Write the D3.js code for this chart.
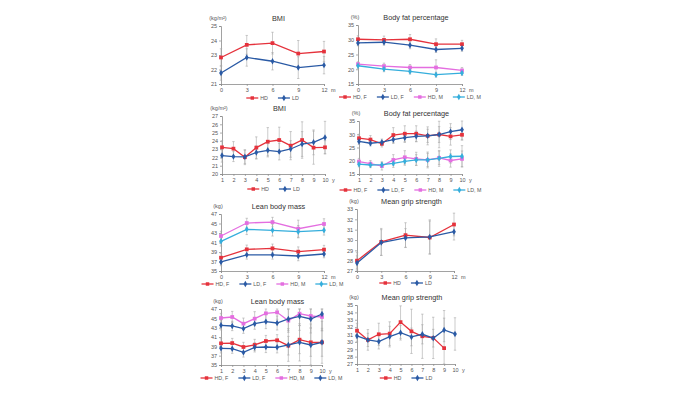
<!DOCTYPE html>
<html>
<head>
<meta charset="utf-8">
<script src="https://cdn.jsdelivr.net/npm/d3@7"></script>
<style>
  body { margin: 0; background: #fff; }
  svg { display: block; font-family: "Liberation Sans", Arial, sans-serif; }
</style>
</head>
<body>
<svg id="chart" width="700" height="394"></svg>
<script>
// x categories
const monthsX = [0, 3, 6, 9, 12];
const yearsX = [1, 2, 3, 4, 5, 6, 7, 8, 9, 10];

// BMI, months
const bmiMonHD = [22.83, 23.7, 23.82, 23.1, 23.24];
const bmiMonHDsd = [0.6, 0.65, 0.75, 0.9, 0.7];
const bmiMonLD = [21.76, 22.83, 22.57, 22.13, 22.3];
const bmiMonLDsd = [0.5, 0.6, 0.6, 0.75, 0.6];

// body fat %, months
const fatMonHDF = [30.17, 29.94, 30.17, 28.5, 28.5];
const fatMonHDFsd = [1.2, 1.3, 1.6, 1.8, 1.3];
const fatMonLDF = [28.93, 29.16, 28.15, 26.7, 27.1];
const fatMonLDFsd = [1.0, 1.0, 1.2, 1.0, 1.0];
const fatMonHDM = [21.74, 21.07, 20.6, 20.6, 19.6];
const fatMonHDMsd = [0.8, 1.0, 1.0, 2.6, 1.0];
const fatMonLDM = [21.18, 20.06, 19.27, 18.15, 18.7];
const fatMonLDMsd = [0.9, 0.9, 0.9, 0.8, 0.8];

// BMI, years
const bmiYrHD = [23.22, 23.06, 22.03, 23.18, 23.9, 24.1, 23.42, 24.1, 23.18, 23.22];
const bmiYrHDsd = [0.8, 0.85, 0.9, 1.3, 1.7, 1.55, 1.7, 2.2, 2.0, 0.8];
const bmiYrLD = [22.23, 22.1, 22.07, 22.6, 22.86, 22.7, 23.02, 23.62, 23.82, 24.41];
const bmiYrLDsd = [0.8, 0.6, 0.8, 0.8, 0.8, 1.0, 1.0, 1.5, 1.5, 1.95];

// body fat %, years
const fatYrHDF = [28.5, 28.0, 26.4, 29.7, 30.2, 30.2, 29.4, 29.9, 29.2, 29.8];
const fatYrHDFsd = [1.5, 1.5, 1.2, 2.8, 3.0, 3.0, 3.4, 5.0, 3.3, 2.0];
const fatYrLDF = [27.3, 26.6, 27.0, 28.0, 28.7, 29.2, 29.4, 29.9, 31.0, 31.7];
const fatYrLDFsd = [1.2, 1.0, 1.2, 1.5, 1.8, 2.0, 2.5, 3.0, 3.0, 3.8];
const fatYrHDM = [19.7, 18.9, 18.0, 20.3, 21.3, 20.7, 20.3, 21.1, 20.1, 20.7];
const fatYrHDMsd = [1.2, 1.2, 1.5, 2.0, 2.5, 2.5, 3.0, 2.5, 2.5, 3.0];
const fatYrLDM = [18.7, 18.4, 18.5, 19.0, 19.8, 20.3, 20.3, 20.9, 21.6, 21.7];
const fatYrLDMsd = [1.0, 1.0, 1.0, 1.5, 1.5, 2.0, 2.5, 3.0, 2.5, 4.0];

// lean body mass, months
const leanMonHDF = [37.8, 39.56, 39.77, 39.07, 39.5];
const leanMonHDFsd = [0.9, 0.9, 0.9, 1.0, 0.9];
const leanMonLDF = [36.9, 38.4, 38.4, 38.16, 38.58];
const leanMonLDFsd = [0.8, 0.9, 0.9, 1.0, 0.8];
const leanMonHDM = [42.37, 45.1, 45.3, 43.9, 44.9];
const leanMonHDMsd = [1.0, 1.0, 1.0, 1.8, 1.1];
const leanMonLDM = [41.25, 43.77, 43.56, 43.28, 43.56];
const leanMonLDMsd = [1.0, 1.1, 1.2, 1.3, 1.0];

// grip strength, months
const gripMonHD = [28.0, 29.82, 30.47, 30.24, 31.5];
const gripMonHDsd = [0.8, 1.3, 1.2, 1.6, 1.1];
const gripMonLD = [27.77, 29.75, 30.2, 30.3, 30.8];
const gripMonLDsd = [0.7, 1.25, 0.9, 1.65, 0.8];

// lean body mass, years
const leanYrHDF = [39.64, 39.7, 38.86, 39.3, 40.14, 40.3, 39.14, 40.43, 39.86, 39.86];
const leanYrHDFsd = [1.0, 1.0, 1.0, 1.2, 1.2, 1.2, 2.0, 3.0, 3.0, 3.0];
const leanYrLDF = [38.57, 38.5, 37.7, 38.79, 38.86, 38.79, 39.29, 39.86, 39.29, 39.86];
const leanYrLDFsd = [1.0, 1.0, 1.0, 1.0, 1.2, 1.2, 3.5, 4.0, 4.5, 4.5];
const leanYrHDM = [45.07, 45.29, 43.86, 44.93, 46.07, 46.29, 44.5, 46.0, 45.5, 45.29];
const leanYrHDMsd = [1.0, 1.2, 1.2, 1.5, 1.5, 1.5, 2.5, 2.5, 2.5, 3.0];
const leanYrLDM = [43.5, 43.36, 42.79, 43.86, 44.29, 44.0, 44.86, 45.43, 44.86, 45.93];
const leanYrLDMsd = [1.0, 1.0, 1.0, 1.2, 1.5, 1.5, 2.5, 3.0, 3.0, 3.5];

// grip strength, years (HD has no year 10)
const gripYrHD = [31.52, 30.27, 31.03, 31.12, 32.68, 31.43, 30.76, 30.54, 29.15];
const gripYrHDsd = [1.0, 1.4, 1.5, 1.6, 2.2, 3.0, 3.0, 2.8, 5.1];
const gripYrLD = [30.8, 30.27, 30.04, 30.71, 31.25, 30.67, 31.03, 30.5, 31.62, 31.07];
const gripYrLDsd = [0.8, 0.9, 1.0, 1.4, 1.0, 1.2, 1.3, 1.2, 1.6, 2.2];

const colHD = "#e5323c", colLD = "#2a5aa5", colHDM = "#e46ee0", colLDM = "#35aedc";

const svg = d3.select("#chart");
svg.append("rect").attr("width", 700).attr("height", 394).attr("fill", "#fff");

function drawPanel(p) {
    const g = svg.append("g");
    const x = d3.scaleLinear().domain(d3.extent(p.xs)).range([p.left, p.right]);
    const y = d3.scaleLinear().domain(p.yDomain).range([p.bottom, p.top]);
    const yTicks = d3.range(p.yDomain[0], p.yDomain[1] + 0.001, p.yStep);

    // axes
    const yAxis = g.append("g")
        .attr("transform", `translate(${p.left},0)`)
        .call(d3.axisLeft(y).tickValues(yTicks).tickSize(2).tickPadding(2).tickFormat(d3.format("d")));
    const xAxis = g.append("g")
        .attr("transform", `translate(0,${p.bottom})`)
        .call(d3.axisBottom(x).tickValues(p.xs).tickSize(2).tickPadding(2).tickFormat(d3.format("d")));
    [yAxis, xAxis].forEach(a => {
        a.select(".domain").attr("stroke", "#8a8a8a").attr("stroke-width", 0.8);
        a.selectAll(".tick line").attr("stroke", "#8a8a8a").attr("stroke-width", 0.7);
        a.selectAll(".tick text").attr("fill", "#555").style("font-size", "5.5px");
    });

    g.append("text")
        .attr("x", p.right + 7).attr("y", p.bottom + 8)
        .attr("fill", "#555").style("font-size", "5.5px")
        .text(p.xUnit);

    g.append("text")
        .attr("x", p.left - 3).attr("y", p.top - 6)
        .attr("text-anchor", "middle")
        .attr("fill", "#555").style("font-size", "5.5px")
        .text(p.yUnit);

    g.append("text")
        .attr("x", (p.left + p.right) / 2 + 6).attr("y", p.top - 5)
        .attr("text-anchor", "middle")
        .attr("fill", "#333").style("font-size", "7.3px")
        .text(p.title);

    // error bars
    p.series.forEach(s => {
        const eb = g.append("g").attr("stroke", "#a8a8a8").attr("stroke-width", 0.6);
        s.values.forEach((v, i) => {
            const cx = x(p.xs[i]);
            const lo = Math.max(v - s.sd[i], p.yDomain[0]);
            const hi = Math.min(v + s.sd[i], p.yDomain[1]);
            eb.append("line").attr("x1", cx).attr("x2", cx).attr("y1", y(lo)).attr("y2", y(hi));
            eb.append("line").attr("x1", cx - 1.2).attr("x2", cx + 1.2).attr("y1", y(hi)).attr("y2", y(hi));
            eb.append("line").attr("x1", cx - 1.2).attr("x2", cx + 1.2).attr("y1", y(lo)).attr("y2", y(lo));
        });
    });

    // lines and markers
    p.series.forEach(s => {
        const line = d3.line().x((d, i) => x(p.xs[i])).y(d => y(d));
        g.append("path")
            .datum(s.values)
            .attr("d", line)
            .attr("fill", "none")
            .attr("stroke", s.color)
            .attr("stroke-width", 1.3);
        const sym = d3.symbol().type(s.shape === "square" ? d3.symbolSquare : d3.symbolDiamond)
            .size(s.shape === "square" ? 14 : 12);
        g.selectAll(null)
            .data(s.values)
            .join("path")
            .attr("d", sym)
            .attr("transform", (d, i) => `translate(${x(p.xs[i])},${y(d)})`)
            .attr("fill", s.color);
    });

    // legend
    const leg = g.append("g");
    let cur = 0;
    p.series.forEach(s => {
        const item = leg.append("g").attr("transform", `translate(${cur},0)`);
        item.append("line").attr("x1", 0).attr("x2", 12).attr("y1", 0).attr("y2", 0)
            .attr("stroke", s.color).attr("stroke-width", 1.3);
        item.append("path")
            .attr("d", d3.symbol().type(s.shape === "square" ? d3.symbolSquare : d3.symbolDiamond).size(12))
            .attr("transform", "translate(6,0)")
            .attr("fill", s.color);
        const t = item.append("text").attr("x", 14).attr("y", 2)
            .attr("fill", "#555").style("font-size", "5.3px").text(s.name);
        cur += 14 + t.node().getComputedTextLength() + 10;
    });
    cur -= 10;
    leg.attr("transform", `translate(${(p.left + p.right) / 2 - cur / 2 + (p.legendShift || 0)},${p.legendY})`);
}

const panels = [
    {title: "BMI", yUnit: "(kg/m²)", xUnit: "m", xs: monthsX,
     left: 221, right: 324, top: 26, bottom: 84, yDomain: [21, 25], yStep: 1, legendY: 98,
     series: [
        {name: "HD", color: colHD, shape: "square", values: bmiMonHD, sd: bmiMonHDsd},
        {name: "LD", color: colLD, shape: "diamond", values: bmiMonLD, sd: bmiMonLDsd}]},
    {title: "Body fat percentage", yUnit: "(%)", xUnit: "m", xs: monthsX,
     left: 358, right: 462, top: 25, bottom: 84, yDomain: [15, 35], yStep: 5, legendY: 97,
     series: [
        {name: "HD, F", color: colHD, shape: "square", values: fatMonHDF, sd: fatMonHDFsd},
        {name: "LD, F", color: colLD, shape: "diamond", values: fatMonLDF, sd: fatMonLDFsd},
        {name: "HD, M", color: colHDM, shape: "square", values: fatMonHDM, sd: fatMonHDMsd},
        {name: "LD, M", color: colLDM, shape: "diamond", values: fatMonLDM, sd: fatMonLDMsd}]},
    {title: "BMI", yUnit: "(kg/m²)", xUnit: "y", xs: yearsX,
     left: 222, right: 325, top: 116, bottom: 174, yDomain: [20, 27], yStep: 1, legendY: 189,
     series: [
        {name: "HD", color: colHD, shape: "square", values: bmiYrHD, sd: bmiYrHDsd},
        {name: "LD", color: colLD, shape: "diamond", values: bmiYrLD, sd: bmiYrLDsd}]},
    {title: "Body fat percentage", yUnit: "(%)", xUnit: "y", xs: yearsX,
     left: 359, right: 462, top: 121, bottom: 174, yDomain: [15, 35], yStep: 5, legendY: 190,
     series: [
        {name: "HD, F", color: colHD, shape: "square", values: fatYrHDF, sd: fatYrHDFsd},
        {name: "LD, F", color: colLD, shape: "diamond", values: fatYrLDF, sd: fatYrLDFsd},
        {name: "HD, M", color: colHDM, shape: "square", values: fatYrHDM, sd: fatYrHDMsd},
        {name: "LD, M", color: colLDM, shape: "diamond", values: fatYrLDM, sd: fatYrLDMsd}]},
    {title: "Lean body mass", yUnit: "(kg)", xUnit: "m", xs: monthsX,
     left: 221, right: 324, top: 214, bottom: 271, yDomain: [35, 47], yStep: 2, legendY: 284,
     series: [
        {name: "HD, F", color: colHD, shape: "square", values: leanMonHDF, sd: leanMonHDFsd},
        {name: "LD, F", color: colLD, shape: "diamond", values: leanMonLDF, sd: leanMonLDFsd},
        {name: "HD, M", color: colHDM, shape: "square", values: leanMonHDM, sd: leanMonHDMsd},
        {name: "LD, M", color: colLDM, shape: "diamond", values: leanMonLDM, sd: leanMonLDMsd}]},
    {title: "Mean grip strength", yUnit: "(kg)", xUnit: "m", xs: monthsX,
     left: 357, right: 454, top: 209, bottom: 271, yDomain: [27, 33], yStep: 1, legendY: 283,
     series: [
        {name: "HD", color: colHD, shape: "square", values: gripMonHD, sd: gripMonHDsd},
        {name: "LD", color: colLD, shape: "diamond", values: gripMonLD, sd: gripMonLDsd}]},
    {title: "Lean body mass", yUnit: "(kg)", xUnit: "y", xs: yearsX,
     left: 221, right: 322, top: 309, bottom: 365, yDomain: [35, 47], yStep: 2, legendY: 378,
     series: [
        {name: "HD, F", color: colHD, shape: "square", values: leanYrHDF, sd: leanYrHDFsd},
        {name: "LD, F", color: colLD, shape: "diamond", values: leanYrLDF, sd: leanYrLDFsd},
        {name: "HD, M", color: colHDM, shape: "square", values: leanYrHDM, sd: leanYrHDMsd},
        {name: "LD, M", color: colLD, shape: "diamond", values: leanYrLDM, sd: leanYrLDMsd}]},
    {title: "Mean grip strength", yUnit: "(kg)", xUnit: "y", xs: yearsX,
     left: 357, right: 455, top: 305, bottom: 364, yDomain: [27, 35], yStep: 1, legendY: 378,
     series: [
        {name: "HD", color: colHD, shape: "square", values: gripYrHD, sd: gripYrHDsd},
        {name: "LD", color: colLD, shape: "diamond", values: gripYrLD, sd: gripYrLDsd}]}
];

panels.forEach(drawPanel);
</script>
</body>
</html>
